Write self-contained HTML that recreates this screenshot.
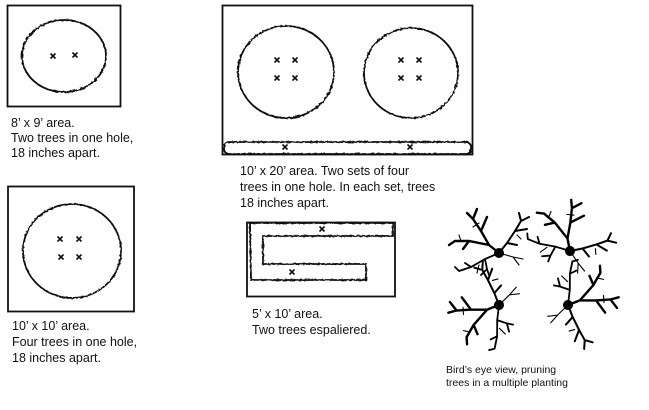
<!DOCTYPE html>
<html><head><meta charset="utf-8"><style>
html,body{margin:0;padding:0;background:#fff}
svg{display:block}
text{font-family:"Liberation Sans",sans-serif;fill:#111}
</style></head><body>
<svg width="649" height="410" viewBox="0 0 649 410" xmlns="http://www.w3.org/2000/svg">
<defs>
<filter id="w" x="-10%" y="-10%" width="120%" height="120%">
<feTurbulence type="fractalNoise" baseFrequency="0.35" numOctaves="2" seed="3"/>
<feDisplacementMap in="SourceGraphic" scale="2.2"/>
</filter>
<path id="x" d="M-2.5 -2.5 L2.5 2.5 M2.5 -2.5 L-2.5 2.5" stroke="#111" stroke-width="1.6" fill="none"/>
<g id="tree" stroke="#000" fill="none" stroke-linecap="round">
<path d="M0 0 L-10 -8 L-18 -22 L-26 -34 M-18 -22 L-12 -36 M-10 -8 L-30 -12 L-44 -12 M-30 -12 L-36 -4 M-26 -34 L-32 -40 M-26 -34 L-22 -44 M-44 -12 L-50 -8" stroke-width="2.4"/>
<path d="M0 0 L8 -10 L16 -22 L22 -32 M16 -22 L28 -24 M22 -32 L20 -40 M22 -32 L30 -36 M8 -10 L18 -8" stroke-width="2"/>
<path d="M0 0 L-14 6 L-28 14 L-40 18 M-14 6 L-12 16 L-10 22 M-28 14 L-34 10 M-40 18 L-44 14 M-12 16 L-18 22" stroke-width="1.8"/>
<path d="M0 0 L14 4 L24 6 M14 4 L20 12 M-38 -12 L-40 -18 M-20 -30 L-26 -26 M18 -18 L22 -14 M-20 12 L-22 20" stroke-width="1.1"/>
<circle r="4.5" fill="#000"/>
</g>
</defs>

<!-- Box 1 -->
<rect x="7.5" y="5.5" width="113" height="101" fill="none" stroke="#111" stroke-width="1.8"/>
<ellipse cx="64" cy="56" rx="42" ry="36" fill="none" stroke="#111" stroke-width="1.8" filter="url(#w)"/>
<use href="#x" x="53" y="56"/><use href="#x" x="75" y="55"/>
<text x="11" y="127" font-size="12.5">8’ x 9’ area.</text>
<text x="11" y="142" font-size="12.5">Two trees in one hole,</text>
<text x="11" y="157" font-size="12.5">18 inches apart.</text>

<!-- Box 2 -->
<rect x="222.5" y="5.5" width="250" height="149" fill="none" stroke="#111" stroke-width="1.8"/>
<ellipse cx="286" cy="72" rx="48" ry="46" fill="none" stroke="#111" stroke-width="1.8" filter="url(#w)"/>
<ellipse cx="411" cy="73" rx="47" ry="45" fill="none" stroke="#111" stroke-width="1.8" filter="url(#w)"/>
<rect x="224" y="142" width="247" height="12" rx="5" fill="none" stroke="#111" stroke-width="1.8" filter="url(#w)"/>
<use href="#x" x="277" y="60"/><use href="#x" x="295" y="60"/><use href="#x" x="277" y="78"/><use href="#x" x="295" y="78"/>
<use href="#x" x="401" y="60"/><use href="#x" x="419" y="60"/><use href="#x" x="401" y="78"/><use href="#x" x="419" y="78"/>
<use href="#x" x="285" y="147"/><use href="#x" x="410" y="147"/>
<text x="240" y="175" font-size="12.5">10’ x 20’ area.  Two sets of four</text>
<text x="240" y="191" font-size="12.5">trees in one hole. In each set, trees</text>
<text x="240" y="207" font-size="12.5">18 inches apart.</text>

<!-- Box 3 -->
<rect x="8" y="186.5" width="126" height="125" fill="none" stroke="#111" stroke-width="1.8"/>
<ellipse cx="72" cy="251" rx="49" ry="47" fill="none" stroke="#111" stroke-width="1.8" filter="url(#w)"/>
<use href="#x" x="60" y="239"/><use href="#x" x="79" y="239"/><use href="#x" x="61" y="257"/><use href="#x" x="79" y="257"/>
<text x="12" y="330" font-size="12.5">10’ x 10’ area.</text>
<text x="12" y="346" font-size="12.5">Four trees in one hole,</text>
<text x="12" y="362" font-size="12.5">18 inches apart.</text>

<!-- Box 4 espalier -->
<rect x="247" y="222.5" width="148" height="74" fill="none" stroke="#111" stroke-width="1.8"/>
<path d="M250 223 L393 223 L393 236 L263 236 L263 264 L366 264 L366 280 L251 280 Z" fill="none" stroke="#111" stroke-width="1.8" filter="url(#w)"/>
<use href="#x" x="322" y="229"/><use href="#x" x="292" y="272"/>
<text x="252" y="318" font-size="12.5">5’ x 10’ area.</text>
<text x="252" y="334" font-size="12.5">Two trees espaliered.</text>

<!-- Trees -->
<use href="#tree" transform="translate(499,253)"/>
<use href="#tree" transform="translate(570,251) rotate(40)"/>
<use href="#tree" transform="translate(499,305) rotate(-60)"/>
<use href="#tree" transform="translate(568,305) rotate(120)"/>
<text x="446" y="373" font-size="10.5">Bird’s eye view, pruning</text>
<text x="446" y="386" font-size="10.5">trees in a multiple planting</text>
</svg>
</body></html>
